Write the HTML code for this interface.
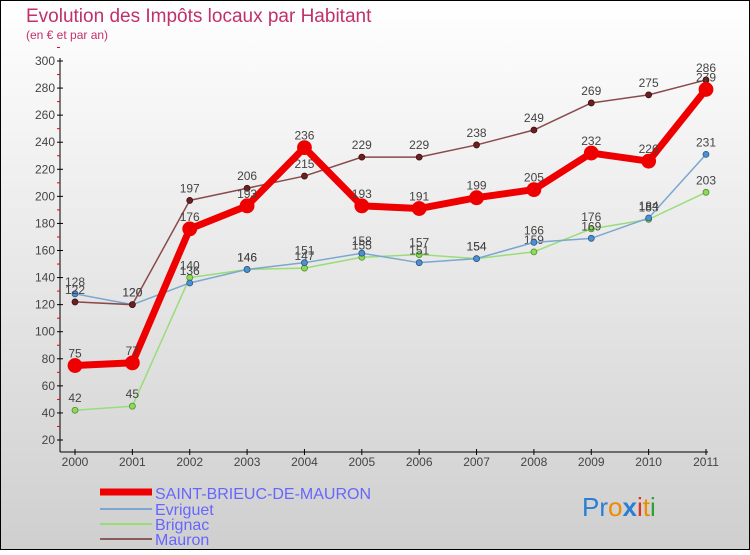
<!DOCTYPE html>
<html><head><meta charset="utf-8"><style>
html,body{margin:0;padding:0}
body{width:750px;height:550px;overflow:hidden;font-family:"Liberation Sans",sans-serif}
svg text{font-family:"Liberation Sans",sans-serif}
</style></head><body>
<svg id="chart" width="750" height="550" xmlns="http://www.w3.org/2000/svg">
<defs><linearGradient id="bg" x1="0" y1="0" x2="0" y2="1"><stop offset="0" stop-color="#ffffff"/><stop offset="1" stop-color="#cfcfcf"/></linearGradient></defs>
<rect x="0.5" y="0.5" width="749" height="549" fill="url(#bg)" stroke="#000"/>
<text x="26" y="22" font-size="19" fill="#c0306a">Evolution des Impôts locaux par Habitant</text>
<text x="26" y="39" font-size="12" fill="#c0306a">(en € et par an)</text>
<g id="axes"></g>
<g id="series"></g>
<g>
<line x1="100" y1="492" x2="152" y2="492" stroke="#e00" stroke-width="7"/>
<text x="155" y="499" font-size="16" fill="#6666ff">SAINT-BRIEUC-DE-MAURON</text>
<line x1="100" y1="509" x2="152" y2="509" stroke="#7aa7d0" stroke-width="2"/>
<text x="155" y="515" font-size="16" fill="#6666ff">Evriguet</text>
<line x1="100" y1="524" x2="152" y2="524" stroke="#99dd77" stroke-width="2"/>
<text x="155" y="530" font-size="16" fill="#6666ff">Brignac</text>
<line x1="100" y1="539" x2="152" y2="539" stroke="#8b5a5a" stroke-width="2"/>
<text x="155" y="545" font-size="16" fill="#6666ff">Mauron</text>
</g>
<g font-size="26">
<text x="582" y="516"><tspan fill="#2a7fd4">Pr</tspan><tspan fill="#f08a00">o</tspan><tspan fill="#2a7fd4" font-weight="bold">x</tspan><tspan fill="#e03020">i</tspan><tspan fill="#f08a00">t</tspan><tspan fill="#30a030">i</tspan></text>
</g>
</svg>
<script>
const years=["2000","2001","2002","2003","2004","2005","2006","2007","2008","2009","2010","2011"];
const yTicks=[20,40,60,80,100,120,140,160,180,200,220,240,260,280,300];
const stBrieuc=[75,77,176,193,236,193,191,199,205,232,226,279];
const evriguet=[128,120,136,146,151,158,151,154,166,169,184,231];
const brignac=[42,45,140,146,147,155,157,154,159,176,183,203];
const mauron=[122,120,197,206,215,229,229,238,249,269,275,286];
const NS="http://www.w3.org/2000/svg";
const xs=i=>75+i*(706-75)/11;
const ys=v=>61+(300-v)*(440-61)/280;
function mk(t,a,p){const e=document.createElementNS(NS,t);for(const k in a)e.setAttribute(k,a[k]);p.appendChild(e);return e;}
const ax=document.getElementById('axes');
const ya=mk('line',{x1:60,y1:58,x2:60,y2:452,stroke:'#000'},ax);


const xa=mk('line',{x1:60,y1:452,x2:708,y2:452,stroke:'#000'},ax);


yTicks.forEach(v=>{
  mk('line',{x1:57,y1:ys(v),x2:63,y2:ys(v),stroke:'#000'},ax);
  mk('line',{x1:57,y1:ys(v+10),x2:60,y2:ys(v+10),stroke:'#e00'},ax);
  const t=mk('text',{x:55,y:ys(v)+4,'font-size':12,'text-anchor':'end',fill:'#444'},ax);
  t.textContent=v;
  
  
});
years.forEach((y,i)=>{
  mk('line',{x1:xs(i),y1:449,x2:xs(i),y2:455,stroke:'#000'},ax);
  const t=mk('text',{x:xs(i),y:466,'font-size':12,'text-anchor':'middle',fill:'#444'},ax);
  t.textContent=y;
  
  
});
const sg=document.getElementById('series');
function draw(name,data,color,w,r,dot,stroke){
  const g=mk('g',{},sg);
  
  
  const pl=mk('polyline',{points:data.map((v,i)=>xs(i)+','+ys(v)).join(' '),fill:'none',stroke:color,'stroke-width':w,'stroke-linejoin':'round'},g);
  
  
  data.forEach((v,i)=>{
    const c=mk('circle',{cx:xs(i),cy:ys(v),r:r,fill:dot,stroke:stroke,'stroke-width':0.8},g);
    
    
    const t=mk('text',{x:xs(i),y:ys(v)-8,'font-size':12,'text-anchor':'middle',fill:'#444'},g);
    t.textContent=v;
    
    
  });
}
draw('brignac',brignac,'#99dd77',1.5,3,'#88dd55','#558833');
draw('evriguet',evriguet,'#7aa7d0',1.5,3,'#4a90d9','#335577');
draw('mauron',mauron,'#8b4a4a',1.5,3,'#6b2020','#401010');
draw('saint-brieuc',stBrieuc,'#ee0000',7,7,'#ee0000','#ee0000');
</script>
</body></html>
